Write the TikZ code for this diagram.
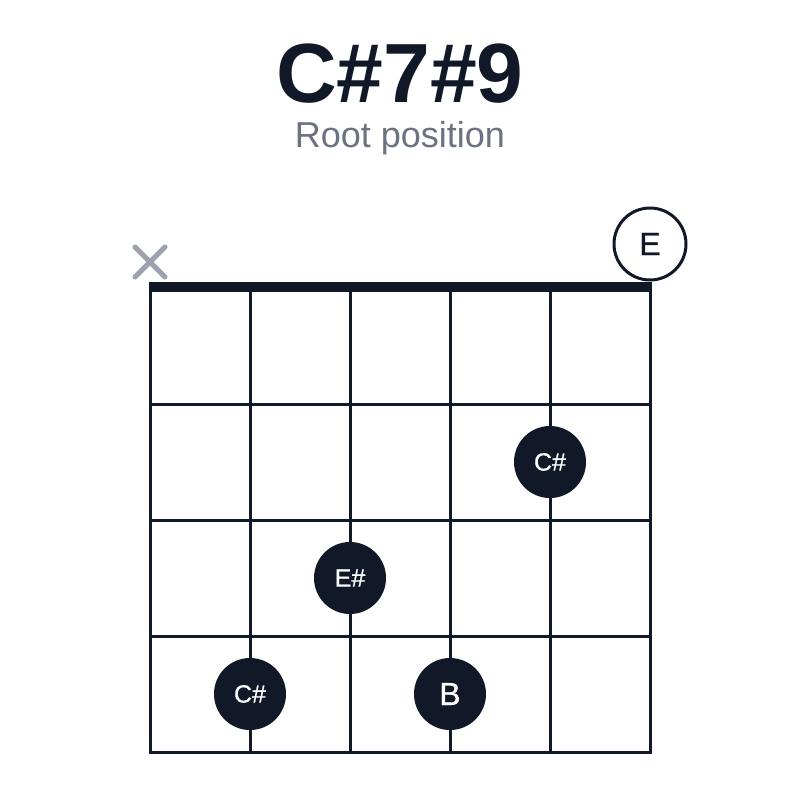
\documentclass[tikz,border=0pt]{standalone}
\usepackage{fontspec}
\setmainfont{Liberation Sans}
\newfontfamily\medfont[FakeBold=0.8]{Liberation Sans}
\definecolor{ink}{HTML}{111827}
\definecolor{sub}{HTML}{6B7280}
\definecolor{mute}{HTML}{9CA3AF}
\begin{document}
\begin{tikzpicture}[x=1pt,y=-1pt,
  gridline/.style={draw=ink,line width=3pt},
  fingerdot/.style={circle,fill=ink,minimum size=72pt,inner sep=0pt,text=white,font=\medfont\fontsize{25}{25}\selectfont},
  bigdot/.style={fingerdot,font=\medfont\fontsize{32}{32}\selectfont},
  opendot/.style={circle,draw=ink,line width=3pt,fill=white,minimum size=72pt,inner sep=0pt,text=ink,font=\medfont\fontsize{32}{32}\selectfont}]
\useasboundingbox[fill=white] (0,0) rectangle (800,800);
\node[anchor=base,text=ink,font=\bfseries\fontsize{84}{84}\selectfont] (title) at (400,102) {C\#7\#9};
\node[anchor=base,text=sub,font=\fontsize{36}{36}\selectfont] (subtitle) at (400,147) {Root position};
% strings
\foreach \i in {0,...,5} {
  \draw[gridline] (150+100*\i,288) -- (150+100*\i,752);
}
% frets
\foreach \j in {1,...,4} {
  \draw[gridline] (148.5,288+116*\j) -- (651.5,288+116*\j);
}
% nut
\draw[draw=ink,line width=10pt] (148.5,287) -- (651.5,287);
% muted
\draw[mute,line width=5pt,line cap=round] (135,247) -- (165,277) (135,277) -- (165,247);
% open
\node[opendot] (open) at (650,244) {E};
% fingers
\node[fingerdot] (d1) at (550,462) {C\#};
\node[fingerdot] (d2) at (350,578) {E\#};
\node[fingerdot] (d3) at (250,694) {C\#};
\node[bigdot] (d4) at (450,694) {B};
\end{tikzpicture}
\end{document}
